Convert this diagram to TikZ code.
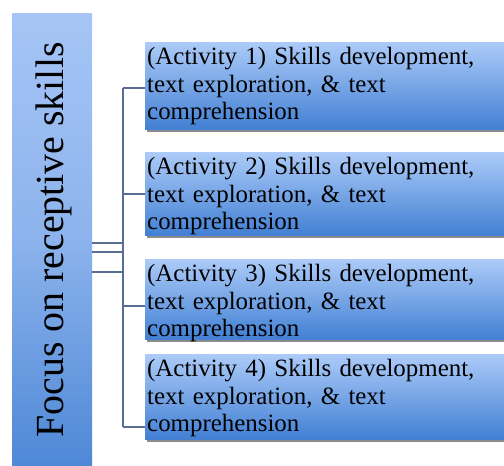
\documentclass[tikz,border=0pt]{standalone}
\usepackage{fontspec}
\setmainfont{Liberation Serif}
\usetikzlibrary{shadows}
\definecolor{barTop}{RGB}{166,197,246}
\definecolor{barBot}{RGB}{78,136,214}
\definecolor{boxTop}{RGB}{172,203,248}
\definecolor{boxBot}{RGB}{66,128,212}
\definecolor{linkcol}{RGB}{88,110,146}
\tikzset{
  x=1bp, y=-1bp,
  actbox/.style={anchor=north west, minimum width=359bp,
    inner sep=0pt, top color=boxTop, bottom color=boxBot,
    drop shadow={shadow xshift=1.5bp, shadow yshift=-3bp, opacity=0.45, fill=black}},
  acttext/.style={anchor=north west, text width=357bp, align=left, inner sep=0pt,
    font=\fontsize{25}{27.5}\selectfont, text=black},
  link/.style={draw=linkcol, line width=2bp}
}
\begin{document}
\begin{tikzpicture}
\useasboundingbox (0,0) rectangle (504,466);
% vertical title bar
\node[anchor=north west, minimum width=80bp, minimum height=453bp, inner sep=0pt,
      top color=barTop, bottom color=barBot, middle color=barTop!70!barBot] (bar) at (12,13) {};
\node[rotate=90, font=\fontsize{40}{44}\selectfont] (title) at (54,240) {Focus on receptive skills};
% activity boxes
\foreach \i/\y/\h in {1/42/87,2/152/83,3/259/80,4/354/85}{
  \node[actbox, minimum height=\h bp] (box\i) at (145,\y) {};
  \node[acttext] (txt\i) at (147,\y+5.5) {(Activity \i) Skills development,\\ text exploration, \& text\\ comprehension};
}
% junction points
\coordinate (j1) at (123,243);
\coordinate (j2) at (123,252);
\coordinate (j3) at (123,272);
\coordinate (t1) at (123,88);
\coordinate (t2) at (123,194);
\coordinate (t3) at (123,306);
\coordinate (t4) at (123,427);
% connectors
\draw[link] (t1) -- (t4);
\foreach \k in {1,2,3}{
  \draw[link] (bar.east |- j\k) -- (j\k);
}
\foreach \k in {1,2,3,4}{
  \draw[link] (t\k) -- (box\k.west |- t\k);
}
\end{tikzpicture}
\end{document}
